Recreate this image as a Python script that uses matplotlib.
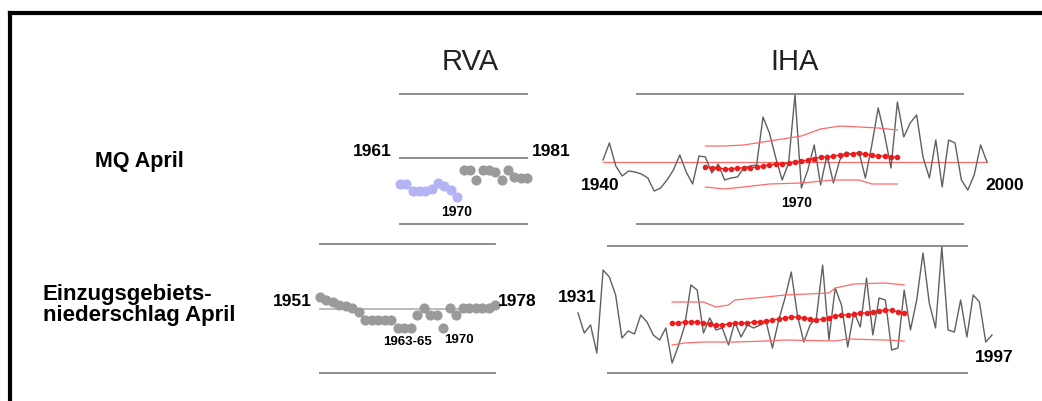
import matplotlib
matplotlib.use("Agg")
import matplotlib.pyplot as plt
from matplotlib.lines import Line2D

plt.rcParams['font.family'] = ['Liberation Sans', 'DejaVu Sans']

W, H = 1042, 401

# RVA - MQ April, 1961-1981 (before / after 1970)
rva_mq_years_pre = list(range(1961, 1971))
rva_mq_pre = [40, 40, 33, 33, 33, 35, 41, 38, 34, 27]
rva_mq_years_post = list(range(1971, 1982))
rva_mq_post = [54, 54, 44, 54, 54, 52, 44, 54, 47, 46, 46]
rva_mq_levels = [0, 66, 130]

# RVA - Einzugsgebietsniederschlag April, 1951-1978
rva_p_years = list(range(1951, 1979))
rva_p = [76, 73, 71, 68, 67, 65, 61, 53, 53, 53, 53, 53, 45, 45, 45, 58, 65, 58,
         58, 45, 65, 58, 65, 65, 65, 65, 65, 68]
rva_p_levels = [0, 64, 129]

# IHA - MQ April, 1940-2000
iha_mq_years = list(range(1940, 2001))
iha_mq = [64, 81, 58, 48, 53, 52, 50, 46, 33, 36,
          44, 54, 69, 52, 40, 68, 67, 51, 60, 44,
          46, 47, 56, 58, 59, 107, 91, 66, 44, 61,
          129, 36, 54, 79, 39, 69, 41, 64, 72, 69,
          72, 46, 79, 116, 89, 56, 122, 87, 101, 109,
          67, 46, 84, 37, 84, 81, 44, 34, 49, 79,
          62]
iha_mq_mean = 62
iha_mq_trend_years = list(range(1956, 1987))
iha_mq_trend = [57, 56, 56, 55, 55, 56, 56, 56, 57, 58, 59, 60, 60, 61, 62, 63,
                64, 65, 67, 67, 68, 69, 70, 70, 71, 70, 69, 68, 68, 67, 67]
iha_mq_up_years = [1956, 1959, 1962, 1964, 1968, 1971, 1974, 1977, 1980, 1983, 1986]
iha_mq_up = [78, 78, 79, 81, 85, 88, 95, 98, 97, 96, 94]
iha_mq_lo_years = [1956, 1959, 1962, 1966, 1971, 1976, 1980, 1982, 1986]
iha_mq_lo = [37, 35, 37, 40, 41, 44, 44, 40, 40]
iha_mq_levels = [0, 130]

# IHA - Einzugsgebietsniederschlag April, 1931-1997
iha_p_years = list(range(1931, 1998))
iha_p = [60, 40, 48, 20, 103, 96, 78, 35, 42, 39,
         58, 51, 38, 33, 45, 10, 27, 47, 88, 83,
         40, 55, 43, 45, 28, 51, 36, 48, 45, 48,
         51, 25, 53, 75, 101, 57, 31, 48, 55, 108,
         33, 85, 68, 26, 61, 46, 95, 38, 75, 73,
         23, 25, 83, 43, 73, 120, 70, 45, 126, 43,
         41, 73, 36, 78, 71, 31, 38]
iha_p_trend_years = list(range(1946, 1984))
iha_p_trend = [50, 50, 51, 51, 51, 50, 49, 48, 48, 49,
               50, 50, 50, 51, 51, 52, 53, 54, 55, 56,
               56, 55, 54, 53, 54, 55, 57, 58, 58, 59,
               60, 60, 61, 62, 63, 63, 61, 60]
iha_p_up_years = [1946, 1951, 1953, 1955, 1956, 1961, 1964, 1971, 1972, 1975, 1980, 1983]
iha_p_up = [71, 71, 66, 68, 73, 76, 78, 80, 85, 89, 90, 88]
iha_p_lo_years = [1946, 1948, 1951, 1956, 1961, 1964, 1972, 1974, 1980, 1983]
iha_p_lo = [28, 30, 31, 31, 32, 33, 32, 34, 33, 32]
iha_p_levels = [0, 127]

GREY = '#8c8c8c'
RED = '#ee1c1c'
LRED = '#ff6a6a'
LINE = '#606060'

fig = plt.figure(figsize=(W / 100, H / 100), dpi=100)


def fx(x):
    return x / W


def fy(y):
    return 1 - y / H


def panel(px0, px1, py_bot, py_top, xlim, ylim):
    ax = fig.add_axes([fx(px0), fy(py_bot), (px1 - px0) / W, (py_bot - py_top) / H])
    ax.set_xlim(xlim)
    ax.set_ylim(ylim)
    ax.axis('off')
    return ax


# frame
fig.add_artist(Line2D([fx(10), 1], [fy(13), fy(13)], color='black', lw=3))
fig.add_artist(Line2D([fx(10), fx(10)], [fy(13), 0], color='black', lw=3))

# titles
fig.text(fx(470), fy(62), 'RVA', fontsize=21, ha='center', va='center', color='#222222')
fig.text(fx(795), fy(62), 'IHA', fontsize=21, ha='center', va='center', color='#222222')
fig.text(fx(95), fy(161), 'MQ April', fontsize=15.5, weight='bold', ha='left', va='center')
fig.text(fx(43), fy(305), 'Einzugsgebiets-\nniederschlag April', fontsize=16,
         weight='bold', ha='left', va='center', linespacing=1.0)

# RVA MQ
ax = panel(400, 527, 224, 94, (1961, 1981), (0, 130))
for v in rva_mq_levels:
    ax.axhline(v, color=GREY, lw=1.4, clip_on=False)
ax.plot(rva_mq_years_pre, rva_mq_pre, 'o', color='#b4b4f4', ms=6.3, clip_on=False)
ax.plot(rva_mq_years_post, rva_mq_post, 'o', color='#9a9a9a', ms=6.3, clip_on=False)
fig.text(fx(392), fy(151), '1961', fontsize=12.5, weight='bold', ha='right', va='center')
fig.text(fx(532), fy(151), '1981', fontsize=12.5, weight='bold', ha='left', va='center')
fig.text(fx(457), fy(212), '1970', fontsize=10, weight='bold', ha='center', va='center')

# RVA precipitation
ax = panel(320, 495, 373, 244, (1951, 1978), (0, 129))
ax.axhline(rva_p_levels[0], color=GREY, lw=1.4, clip_on=False)
ax.axhline(rva_p_levels[1], color='#b0b0b0', lw=1.2, clip_on=False)
ax.axhline(rva_p_levels[2], color=GREY, lw=1.4, clip_on=False)
ax.plot(rva_p_years, rva_p, 'o', color='#9a9a9a', ms=6.3, clip_on=False)
fig.text(fx(312), fy(301), '1951', fontsize=12.5, weight='bold', ha='right', va='center')
fig.text(fx(498), fy(301), '1978', fontsize=12.5, weight='bold', ha='left', va='center')
fig.text(fx(408), fy(342), '1963-65', fontsize=9.5, weight='bold', ha='center', va='center')
fig.text(fx(459), fy(340), '1970', fontsize=9.5, weight='bold', ha='center', va='center')

# IHA MQ
ax = panel(603, 987, 224, 94, (1940, 2000), (0, 130))
for v in iha_mq_levels:
    ax.axhline(v, xmin=0.089, xmax=0.9375, color=GREY, lw=1.4, clip_on=False)
ax.axhline(iha_mq_mean, color=LRED, lw=0.9, clip_on=False)
ax.plot(iha_mq_years, iha_mq, color=LINE, lw=1.0, clip_on=False)
ax.plot(iha_mq_up_years, iha_mq_up, color=LRED, lw=0.9)
ax.plot(iha_mq_lo_years, iha_mq_lo, color=LRED, lw=0.9)
ax.plot(iha_mq_trend_years, iha_mq_trend, 'o-', color=RED, ms=3.0, lw=1.0)
fig.text(fx(620), fy(186), '1940', fontsize=12.5, weight='bold', ha='right', va='center')
fig.text(fx(985), fy(186), '2000', fontsize=12.5, weight='bold', ha='left', va='center')
fig.text(fx(797), fy(203), '1970', fontsize=10, weight='bold', ha='center', va='center')

# IHA precipitation
ax = panel(578, 992, 373, 246, (1931, 1997), (0, 127))
for v in iha_p_levels:
    ax.axhline(v, xmin=0.0725, xmax=0.94, color=GREY, lw=1.4, clip_on=False)
ax.plot(iha_p_years, iha_p, color=LINE, lw=1.0, clip_on=False)
ax.plot(iha_p_up_years, iha_p_up, color=LRED, lw=0.9)
ax.plot(iha_p_lo_years, iha_p_lo, color=LRED, lw=0.9)
ax.plot(iha_p_trend_years, iha_p_trend, 'o-', color=RED, ms=3.0, lw=1.0)
fig.text(fx(597), fy(298), '1931', fontsize=12.5, weight='bold', ha='right', va='center')
fig.text(fx(975), fy(358), '1997', fontsize=12.5, weight='bold', ha='left', va='center')

fig.savefig('out.png', dpi=100)
